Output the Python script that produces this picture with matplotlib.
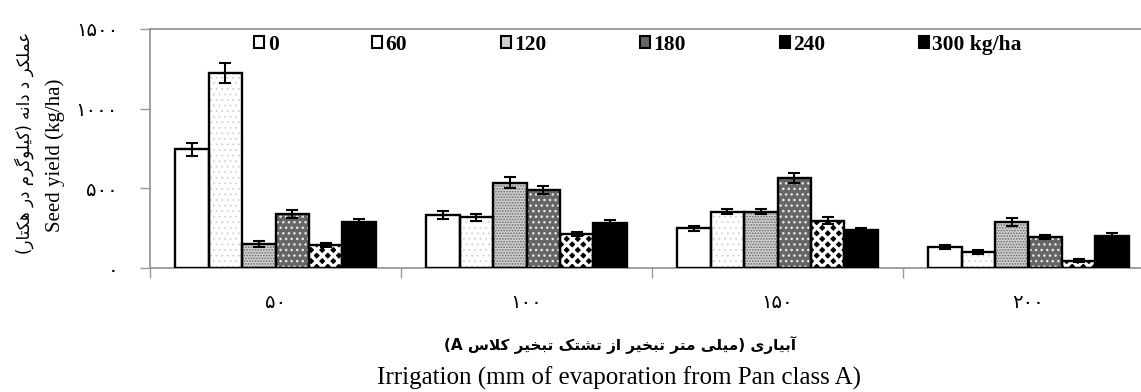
import matplotlib
matplotlib.use("Agg")
import matplotlib.pyplot as plt
from matplotlib.patches import Patch
import numpy as np

# ---------------- data ----------------
categories = ["۵۰", "۱۰۰", "۱۵۰", "۲۰۰"]
series_labels = ["0", "60", "120", "180", "240", "300 kg/ha"]
y_ticks = [0, 500, 1000, 1500]
y_ticklabels = ["۰", "۵۰۰", "۱۰۰۰", "۱۵۰۰"]

vals_0 = [746, 332, 249, 134]
vals_60 = [1223, 318, 353, 98]
vals_120 = [150, 535, 353, 286]
vals_180 = [339, 489, 566, 194]
vals_240 = [144, 213, 297, 46]
vals_300 = [290, 282, 238, 201]

err_0 = [40, 23, 15, 13]
err_60 = [63, 23, 17, 13]
err_120 = [17, 33, 17, 25]
err_180 = [25, 25, 31, 13]
err_240 = [12, 15, 23, 10]
err_300 = [15, 21, 13, 21]

ylabel_fa = "عملکر د دانه (کیلوگرم در هکتار)"
ylabel_en = "Seed yield (kg/ha)"
xlabel_fa = "آبیاری (میلی متر تبخیر از تشتک تبخیر کلاس A)"
xlabel_en = "Irrigation (mm of evaporation from Pan class A)"

# ---------------- minimal Persian shaping ----------------
FORMS = {
    'ع': ('\uFEC9', '\uFECA', '\uFECB', '\uFECC'),
    'م': ('\uFEE1', '\uFEE2', '\uFEE3', '\uFEE4'),
    'ل': ('\uFEDD', '\uFEDE', '\uFEDF', '\uFEE0'),
    'ک': ('\uFB8E', '\uFB8F', '\uFB90', '\uFB91'),
    'ر': ('\uFEAD', '\uFEAE'),
    'د': ('\uFEA9', '\uFEAA'),
    'ا': ('\uFE8D', '\uFE8E'),
    'ن': ('\uFEE5', '\uFEE6', '\uFEE7', '\uFEE8'),
    'ه': ('\uFEE9', '\uFEEA', '\uFEEB', '\uFEEC'),
    'ی': ('\uFBFC', '\uFBFD', '\uFBFE', '\uFBFF'),
    'و': ('\uFEED', '\uFEEE'),
    'گ': ('\uFB92', '\uFB93', '\uFB94', '\uFB95'),
    'ت': ('\uFE95', '\uFE96', '\uFE97', '\uFE98'),
    'آ': ('\uFE81', '\uFE82'),
    'ب': ('\uFE8F', '\uFE90', '\uFE91', '\uFE92'),
    'خ': ('\uFEA5', '\uFEA6', '\uFEA7', '\uFEA8'),
    'ز': ('\uFEAF', '\uFEB0'),
    'ش': ('\uFEB5', '\uFEB6', '\uFEB7', '\uFEB8'),
    'س': ('\uFEB1', '\uFEB2', '\uFEB3', '\uFEB4'),
}


def shape_rtl(text):
    out = []
    i = 0
    n = len(text)
    while i < n:
        c = text[i]
        if c not in FORMS:
            out.append(c)
            i += 1
            continue
        prev = text[i - 1] if i > 0 else ''
        prev_joins = prev in FORMS and len(FORMS[prev]) == 4
        if c == 'ل' and i + 1 < n and text[i + 1] == 'ا':
            out.append('\uFEFC' if prev_joins else '\uFEFB')
            i += 2
            continue
        nxt = text[i + 1] if i + 1 < n else ''
        next_joins = len(FORMS[c]) == 4 and nxt in FORMS
        f = FORMS[c]
        if prev_joins and next_joins:
            g = f[3]
        elif prev_joins:
            g = f[1]
        elif next_joins:
            g = f[2]
        else:
            g = f[0]
        out.append(g)
        i += 1
    s = ''.join(out)[::-1]
    mirror = {'(': ')', ')': '('}
    return ''.join(mirror.get(ch, ch) for ch in s)


# ---------------- figure ----------------
W, H = 1141, 392
fig = plt.figure(figsize=(W / 100, H / 100), dpi=100)
ax_left, ax_right, ax_top, ax_bot = 150, 1154, 29, 268
ax = fig.add_axes([ax_left / W, 1 - ax_bot / H, (ax_right - ax_left) / W, (ax_bot - ax_top) / H])

all_vals = [vals_0, vals_60, vals_120, vals_180, vals_240, vals_300]
all_errs = [err_0, err_60, err_120, err_180, err_240, err_300]
styles = [
    dict(face='white', hatch=None, hcol='black', hlw=1.0),
    dict(face='white', hatch='...', hcol='#d2d2d2', hlw=0.6),
    dict(face='#cfcfcf', hatch='......', hcol='#6a6a6a', hlw=0.8),
    dict(face='#666666', hatch='...', hcol='#e8e8e8', hlw=1.0),
    dict(face='black', hatch='xxx', hcol='white', hlw=2.4),
    dict(face='black', hatch=None, hcol='black', hlw=1.0),
]

x = np.arange(len(categories))
nser = len(all_vals)
w = 1.0 / 7.5
handles = []
for k, (vals, errs, st) in enumerate(zip(all_vals, all_errs, styles)):
    pos = x + (k - (nser - 1) / 2) * w
    with plt.rc_context({'hatch.linewidth': st['hlw']}):
        ax.bar(pos, vals, w, color=st['face'], edgecolor=st['hcol'], hatch=st['hatch'],
               linewidth=0, zorder=2)
    ax.bar(pos, vals, w, facecolor='none', edgecolor='black', linewidth=1.7, zorder=3)
    ax.errorbar(pos, vals, yerr=errs, fmt='none', ecolor='black', elinewidth=1.5,
                capsize=4.5, capthick=1.5, zorder=4)
    hface = st['face'] if k != 1 else 'white'
    handles.append(Patch(facecolor=hface, edgecolor='black', linewidth=1.5,
                         label=series_labels[k]))

ax.set_xlim(-0.5, len(categories) - 0.5)
ax.set_ylim(0, 1500)
ax.set_yticks(y_ticks)
ax.set_yticklabels(y_ticklabels, fontfamily='DejaVu Sans', fontsize=14)
ax.set_xticks(x)
ax.set_xticklabels(categories, fontfamily='DejaVu Sans', fontsize=14)
ax.set_xticks(np.arange(-0.5, len(categories), 1.0), minor=True)
ax.tick_params(axis='x', which='major', length=0, pad=18)
ax.tick_params(axis='x', which='minor', length=7, color='#9a9a9a', width=1)
ax.tick_params(axis='y', which='major', length=7, color='#9a9a9a', width=1, pad=16)
for sp in ax.spines.values():
    sp.set_color('#8f8f8f')
    sp.set_linewidth(1.2)

leg = ax.legend(handles=handles, loc='center', bbox_to_anchor=(0.486, 0.933), ncol=6,
                frameon=False, prop=dict(family='Liberation Serif', weight='bold', size=15.5),
                handlelength=0.47, handleheight=0.47, handletextpad=0.15, columnspacing=4.35,
                borderpad=0, borderaxespad=0)

# y labels
fig.text(24 / W, 1 - 143 / H, shape_rtl(ylabel_fa), rotation=90, ha='center', va='center',
         fontfamily='DejaVu Sans', fontsize=12)
fig.text(55 / W, 1 - 155 / H, ylabel_en, rotation=90, ha='center', va='center',
         fontfamily='Liberation Serif', fontsize=15)
# x labels
fig.text(620 / W, 1 - 345 / H, shape_rtl(xlabel_fa), ha='center', va='center',
         fontfamily='DejaVu Sans', fontweight='bold', fontsize=11)
fig.text(619 / W, 1 - 378 / H, xlabel_en, ha='center', va='center',
         fontfamily='Liberation Serif', fontsize=18)

fig.savefig('out.png', dpi=100)
